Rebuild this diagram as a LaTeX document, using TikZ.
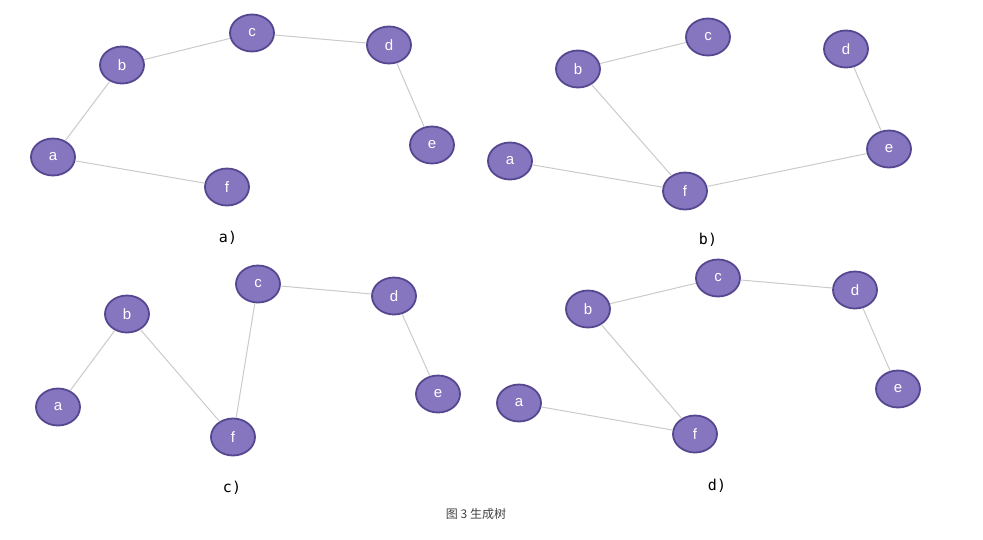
\documentclass[tikz,border=0pt]{standalone}
\usepackage{fontspec}
\setmainfont{Liberation Sans}
\newfontfamily\monof{DejaVu Sans Mono}
\newfontfamily\cjk{Noto Sans CJK SC}
\usetikzlibrary{shapes.geometric}
\definecolor{nodefill}{HTML}{8676C0}
\definecolor{nodeborder}{HTML}{544790}
\definecolor{edgecol}{HTML}{CACACA}
\tikzset{
  vtx/.style={ellipse, draw=nodeborder, line width=1.8pt, fill=nodefill, minimum width=44pt, minimum height=37pt, inner sep=0pt, text=white, font=\fontsize{15pt}{15pt}\selectfont},
  edge/.style={draw=edgecol, line width=1pt},
  sublabel/.style={font=\monof\fontsize{15pt}{15pt}\selectfont, text=black},
}
\begin{document}
\begin{tikzpicture}[x=1pt,y=-1pt]
\useasboundingbox (0,0) rectangle (983,539);
% graph a
\node[vtx] (aa) at (53,157) {a};
\node[vtx] (ab) at (122,65) {b};
\node[vtx] (ac) at (252,33) {c};
\node[vtx] (ad) at (389,45) {d};
\node[vtx] (ae) at (432,145) {e};
\node[vtx] (af) at (227,187) {f};
% graph b
\node[vtx] (ba) at (510,161) {a};
\node[vtx] (bb) at (578,69) {b};
\node[vtx] (bc) at (708,37) {c};
\node[vtx] (bd) at (846,49) {d};
\node[vtx] (be) at (889,149) {e};
\node[vtx] (bf) at (685,191) {f};
% graph c
\node[vtx] (ca) at (58,407) {a};
\node[vtx] (cb) at (127,314) {b};
\node[vtx] (cc) at (258,284) {c};
\node[vtx] (cd) at (394,296) {d};
\node[vtx] (ce) at (438,394) {e};
\node[vtx] (cf) at (233,437) {f};
% graph d
\node[vtx] (da) at (519,403) {a};
\node[vtx] (db) at (588,309) {b};
\node[vtx] (dc) at (718,278) {c};
\node[vtx] (dd) at (855,290) {d};
\node[vtx] (de) at (898,389) {e};
\node[vtx] (df) at (695,434) {f};
% edges
\path[edge] (aa) -- (ab) (ab) -- (ac) (ac) -- (ad) (ad) -- (ae) (aa) -- (af);
\path[edge] (bb) -- (bc) (bb) -- (bf) (ba) -- (bf) (bf) -- (be) (bd) -- (be);
\path[edge] (ca) -- (cb) (cb) -- (cf) (cf) -- (cc) (cc) -- (cd) (cd) -- (ce);
\path[edge] (db) -- (dc) (dc) -- (dd) (dd) -- (de) (db) -- (df) (da) -- (df);
% labels
\node[sublabel] (la) at (228,238) {a)};
\node[sublabel] (lb) at (708,240) {b)};
\node[sublabel] (lc) at (232,488) {c)};
\node[sublabel] (ld) at (717,486) {d)};
\node[font=\cjk\fontsize{12pt}{12pt}\selectfont, text=black!75] (cap) at (476,514) {图 3 生成树};
\end{tikzpicture}
\end{document}
